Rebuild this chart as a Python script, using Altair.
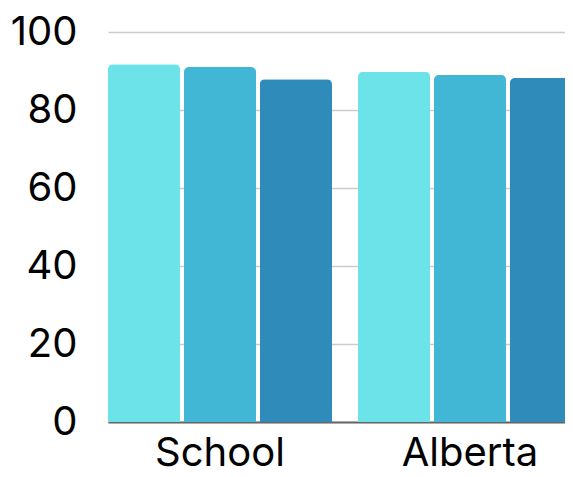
import altair as alt
import pandas as pd

groups = ["School", "School", "School", "Alberta", "Alberta", "Alberta"]
series = ["A", "B", "C", "A", "B", "C"]
values = [91.7, 91.0, 87.9, 89.8, 89.0, 88.2]
colors = ["#6BE3E8", "#42B7D5", "#2E8BBA"]
y_ticks = [0, 20, 40, 60, 80, 100]

df = pd.DataFrame({"group": groups, "series": series, "value": values})

chart = alt.Chart(df).mark_bar(
    cornerRadiusTopLeft=5, cornerRadiusTopRight=5
).encode(
    x=alt.X("group:N", sort=["School", "Alberta"],
            scale=alt.Scale(paddingInner=0.104, paddingOuter=0, range=[0, 474]),
            axis=alt.Axis(title=None, labelAngle=0, labelFontSize=40, labelFont="Inter",
                          labelColor="#000", labelPadding=11, ticks=False,
                          domainColor="#666", domainWidth=2, grid=False)),
    xOffset=alt.XOffset("series:N", sort=["A", "B", "C"],
                        scale=alt.Scale(paddingInner=0.05, paddingOuter=0, range=[0, 224])),
    y=alt.Y("value:Q", scale=alt.Scale(domain=[0, 100], nice=False),
            axis=alt.Axis(title=None, values=y_ticks, labelFontSize=40, labelFont="Inter",
                          labelColor="#000", labelPadding=31, ticks=False, domain=False,
                          gridColor="#CCCCCC", gridWidth=1.5)),
    color=alt.Color("series:N", scale=alt.Scale(domain=["A", "B", "C"], range=colors), legend=None),
).properties(
    width=457, height=390,
    autosize=alt.AutoSizeParams(type="none"),
    padding={"left": 100, "top": 24, "right": 0, "bottom": 47},
).configure_view(stroke=None)

chart.save("out.html", embed_options={"renderer": "svg", "actions": False})
